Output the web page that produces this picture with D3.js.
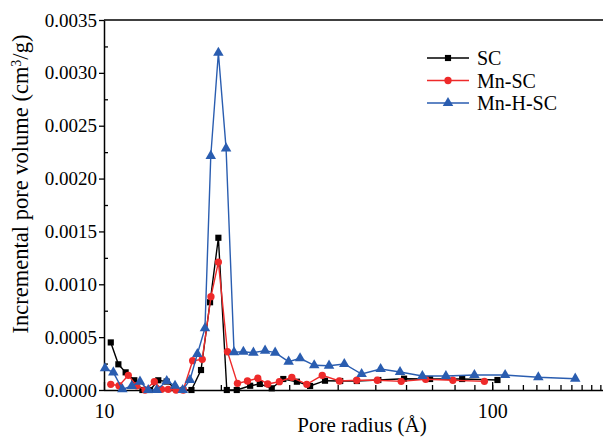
<!DOCTYPE html>
<html lang="en">
<head>
<meta charset="utf-8">
<title>Pore size distribution</title>
<style>
  body { margin: 0; background: #fff; }
  text { font-family: "Liberation Serif", "Times New Roman", serif; fill: #000; }
</style>
</head>
<body>
<div id="chart"></div>
<script src="https://d3js.org/d3.v7.min.js"></script>
<script>
// Pore radius (Å) and incremental pore volume (cm3/g) for each sample
const scRadius = [10.41, 10.89, 11.37, 11.97, 12.56, 13.14, 13.8, 14.5, 15.2, 16.0, 16.8, 17.78, 18.76, 19.71, 20.72, 21.98, 23.8, 25.2, 27.05, 28.97, 31.4, 33.96, 37.1, 40.6, 44.8, 50.9, 59.3, 69.2, 83.7, 103.2];
const scVolume = [0.00045, 0.000243, 0.000167, 0.000092, 0.0, 0.0, 0.000092, 0.00008, 0.00002, 0.0, 0.0, 0.000189, 0.00083, 0.00144, 0.0, 0.0, 0.00004, 0.000057, 0.000016, 0.000104, 0.0000785, 0.000038, 0.000088, 0.000085, 0.000085, 0.0000946, 0.000107, 0.000104, 0.000104, 0.0000946];

const mnRadius = [10.41, 10.93, 11.55, 12.14, 12.76, 13.48, 14.07, 14.64, 15.33, 16.0, 16.92, 17.91, 18.86, 19.71, 20.8, 22.07, 23.42, 24.9, 26.41, 28.3, 30.47, 33.3, 36.5, 40.4, 44.8, 50.6, 58.3, 67.4, 79.2, 95.5];
const mnVolume = [0.000054, 0.00004, 0.000139, 0.00004, 0.0, 0.0000785, 0.0000066, 0.0000066, 0.0, 0.0, 0.000277, 0.00029, 0.000883, 0.00121, 0.000362, 0.000063, 0.000085, 0.000111, 0.000057, 0.0000785, 0.00012, 0.000054, 0.000139, 0.000085, 0.000092, 0.000092, 0.000082, 0.000101, 0.000092, 0.000082];

const mnhRadius = [10.06, 10.57, 11.15, 11.79, 12.38, 13.0, 13.67, 14.51, 15.24, 15.95, 16.65, 17.4, 18.2, 18.84, 19.71, 20.63, 21.63, 22.86, 24.26, 26.0, 27.6, 29.9, 32.0, 34.8, 38.0, 41.6, 46.1, 51.6, 57.9, 66.1, 76.0, 90.0, 108.0, 131.5, 163.7];
const mnhVolume = [0.000205, 0.000167, 0.0000066, 0.000038, 0.0000785, 0.0, 0.0, 0.000085, 0.00004, 0.0, 0.0000946, 0.00034, 0.000584, 0.002214, 0.00319, 0.002286, 0.000357, 0.000362, 0.000353, 0.000372, 0.000353, 0.000268, 0.0003, 0.000234, 0.00023, 0.000246, 0.000151, 0.000199, 0.00017, 0.000132, 0.000132, 0.000142, 0.000142, 0.00012, 0.000107];

const seriesNames = ["SC", "Mn-SC", "Mn-H-SC"];
const yTicks = [0, 0.0005, 0.001, 0.0015, 0.002, 0.0025, 0.003, 0.0035];
const xTicks = [10, 100];

const series = [
   { name: seriesNames[0], r: scRadius, v: scVolume, color: "#000000", shape: d3.symbolSquare, size: 38 },
   { name: seriesNames[1], r: mnRadius, v: mnVolume, color: "#ee2a2a", shape: d3.symbolCircle, size: 42 },
   { name: seriesNames[2], r: mnhRadius, v: mnhVolume, color: "#2a5db0", shape: d3.symbolTriangle, size: 48 }
];

const W = 603, H = 440;
const margin = { top: 20, left: 104, bottom: 50 };
const plotBottom = H - margin.bottom;

const svg = d3.select("#chart").append("svg")
   .attr("width", W)
   .attr("height", H);

// x axis runs to 200 and gets cut at the right edge, as in the original
const x = d3.scaleLog().domain([10, 200]).range([margin.left, 609]);
const y = d3.scaleLinear().domain([0, 0.0035]).range([plotBottom, margin.top]);

// frame: top line
svg.append("line")
   .attr("x1", margin.left).attr("x2", W)
   .attr("y1", margin.top).attr("y2", margin.top)
   .attr("stroke", "#000").attr("stroke-width", 1.5);

// bottom axis, ticks pointing in
const xMinor = d3.range(20, 200, 10);
svg.append("g")
   .attr("transform", `translate(0,${plotBottom})`)
   .call(d3.axisBottom(x).tickValues(xMinor).tickSize(-5).tickFormat("").tickSizeOuter(0))
   .call(g => g.select(".domain").remove())
   .selectAll("line").attr("stroke-width", 1.3);

const xAxis = svg.append("g")
   .attr("transform", `translate(0,${plotBottom})`)
   .call(d3.axisBottom(x).tickValues(xTicks).tickSize(-8).tickPadding(14).tickFormat(d3.format("d")).tickSizeOuter(0));
xAxis.select(".domain").attr("d", `M${margin.left},0.5H${W}`).attr("stroke-width", 1.5);
xAxis.selectAll("line").attr("stroke-width", 1.3);
xAxis.selectAll("text")
   .style("font-family", "Liberation Serif")
   .style("font-size", "20px");

// left axis: major ticks out, minor ticks in
svg.append("g")
   .attr("transform", `translate(${margin.left},0)`)
   .call(d3.axisLeft(y).tickValues(d3.range(0.00025, 0.0035, 0.0005)).tickSize(-4).tickFormat("").tickSizeOuter(0))
   .call(g => g.select(".domain").remove())
   .selectAll("line").attr("stroke-width", 1.3);

const yAxis = svg.append("g")
   .attr("transform", `translate(${margin.left},0)`)
   .call(d3.axisLeft(y).tickValues(yTicks).tickSize(5).tickPadding(2).tickFormat(d3.format(".4f")).tickSizeOuter(0));
yAxis.select(".domain").attr("stroke-width", 1.5);
yAxis.selectAll("line").attr("stroke-width", 1.3);
yAxis.selectAll("text")
   .style("font-family", "Liberation Serif")
   .style("font-size", "19px");

// axis titles
svg.append("text")
   .attr("x", 362).attr("y", 432)
   .attr("text-anchor", "middle")
   .style("font-size", "21px")
   .text("Pore radius (Å)");

const yTitle = svg.append("text")
   .attr("transform", "translate(28,184) rotate(-90)")
   .attr("text-anchor", "middle")
   .style("font-size", "22.5px");
yTitle.append("tspan").text("Incremental pore volume (cm");
yTitle.append("tspan").attr("baseline-shift", "super").style("font-size", "14px").text("3");
yTitle.append("tspan").text("/g)");

// lines and markers
const line = d3.line()
   .x(d => x(d[0]))
   .y(d => y(d[1]));

series.forEach(s => {
   const pts = s.r.map((r, i) => [r, s.v[i]]);
   svg.append("path")
      .datum(pts)
      .attr("fill", "none")
      .attr("stroke", s.color)
      .attr("stroke-width", 1.4)
      .attr("d", line);
   svg.append("g")
      .selectAll("path")
      .data(pts)
      .join("path")
      .attr("transform", d => `translate(${x(d[0])},${y(d[1])})`)
      .attr("d", d3.symbol().type(s.shape).size(s.size))
      .attr("fill", s.color);
});

// legend
const legend = svg.append("g").attr("transform", "translate(427,58)");
const items = legend.selectAll("g")
   .data(series)
   .join("g")
   .attr("transform", (d, i) => `translate(0,${i * 22.5})`);
items.append("line")
   .attr("x1", 0).attr("x2", 42)
   .attr("stroke", d => d.color)
   .attr("stroke-width", 1.4);
items.append("path")
   .attr("transform", "translate(21,0)")
   .attr("d", d => d3.symbol().type(d.shape).size(d.size)())
   .attr("fill", d => d.color);
items.append("text")
   .attr("x", 50).attr("y", 7)
   .style("font-size", "20px")
   .text(d => d.name);
</script>
</body>
</html>
